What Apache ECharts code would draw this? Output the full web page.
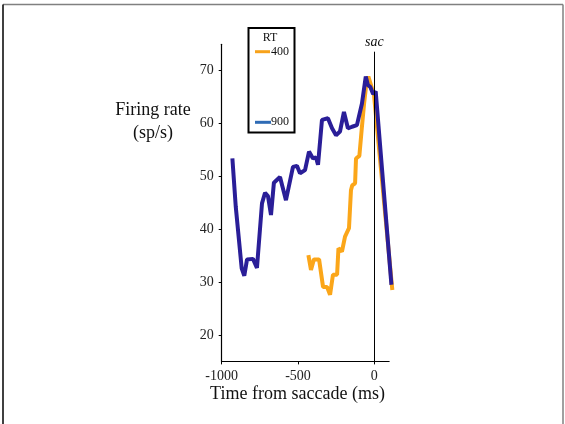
<!DOCTYPE html>
<html><head><meta charset="utf-8">
<script src="https://cdn.jsdelivr.net/npm/echarts@6/dist/echarts.min.js"></script>
<style>html,body{margin:0;padding:0;background:#fff}#c{width:565px;height:424px}</style>
</head><body><div id="c"></div>
<script>
// Data (time from saccade in ms, firing rate in sp/s)
const rt900_t = [-930,-908,-869,-852,-834,-795,-769,-736,-716,-697,-677,-658,-618,-579,-533,-507,-487,-454,-428,-402,-382,-369,-343,-304,-277,-251,-225,-199,-173,-146,-114,-81,-56,-42,-26,-8,9,22,112];
const rt900_v = [53.4,44.3,32.6,31.2,34.3,34.4,32.7,44.9,46.9,46.3,42.7,48.8,49.9,45.5,51.8,52.0,50.6,51.2,54.7,53.4,53.6,52.2,60.7,61.0,59.1,57.8,58.5,62.2,59.1,59.4,59.7,63.8,68.9,67.3,66.9,65.6,66.1,66.0,29.5];
const rt400_t = [-432,-415,-396,-362,-336,-310,-290,-271,-244,-235,-212,-192,-166,-153,-145,-126,-120,-98,-83,-67,-52,-39,-28,-2,118];
const rt400_v = [35.1,32.3,34.3,34.3,29.1,29.1,27.6,31.4,31.4,36.4,35.8,38.6,40.2,47.4,48.3,48.7,53.4,53.9,58.8,63.8,67.6,68.9,68.8,65.4,28.5];
const xTicks = [-1000,-500,0];
const yTicks = [20,30,40,50,60,70];
const xAxisEnd = 100;
const legendTitle = 'RT';
const legendLabels = ['400','900'];

const pair = (t,v)=>t.map((x,i)=>[x,v[i]]);
const serif = 'Liberation Serif';
const chart = echarts.init(document.getElementById('c'), null, {renderer:'canvas'});
chart.setOption({
  animation:false,
  backgroundColor:'#fff',
  grid:{left:221.7, top:44.3, width:171.7, height:317.1, containLabel:false},
  xAxis:{type:'value', min:-1000, max:125, splitLine:{show:false},
    axisLine:{show:false},
    axisTick:{show:true, customValues:xTicks, length:3, lineStyle:{color:'#000'}},
    axisLabel:{customValues:xTicks, formatter:v=>String(v), fontFamily:serif, fontSize:14, color:'#222', margin:8}},
  yAxis:{type:'value', min:15, max:75, splitLine:{show:false},
    axisLine:{show:true, onZero:false, lineStyle:{color:'#000', width:1.2}},
    axisTick:{show:true, customValues:yTicks, length:3, lineStyle:{color:'#000'}},
    axisLabel:{customValues:yTicks, formatter:v=>String(v), fontFamily:serif, fontSize:14, color:'#222', margin:8}},
  series:[
    {type:'line', data:pair(rt400_t, rt400_v), symbol:'none',
      lineStyle:{color:'#FBA619', width:4}, z:2},
    {type:'line', data:pair(rt900_t, rt900_v), symbol:'none',
      lineStyle:{color:'#2A1E98', width:4}, z:3,
      markLine:{silent:true, symbol:'none', label:{show:false},
        lineStyle:{color:'#000', width:1, type:'solid'},
        data:[
          [{coord:[0,73.6]},{coord:[0,15]}],
          [{coord:[-1000,15], lineStyle:{width:1.2}},{coord:[xAxisEnd,15]}]
        ]}}
  ],
  graphic:[
    {type:'line', shape:{x1:3,y1:4.5,x2:563,y2:4.5}, style:{stroke:'#808080', lineWidth:1.5}},
    {type:'line', shape:{x1:3,y1:4.5,x2:3,y2:424}, style:{stroke:'#000', lineWidth:1.5}},
    {type:'line', shape:{x1:563,y1:4.5,x2:563,y2:424}, style:{stroke:'#808080', lineWidth:1.5}},
    {type:'text', x:374.3, y:42, style:{text:'sac', font:'italic 14px "Liberation Serif"', fill:'#111', textAlign:'center', textVerticalAlign:'middle'}},
    {type:'text', x:297.5, y:394, style:{text:'Time from saccade (ms)', font:'18px "Liberation Serif"', fill:'#111', textAlign:'center', textVerticalAlign:'middle'}},
    {type:'text', x:153, y:110, style:{text:'Firing rate', font:'18px "Liberation Serif"', fill:'#111', textAlign:'center', textVerticalAlign:'middle'}},
    {type:'text', x:153, y:133, style:{text:'(sp/s)', font:'18px "Liberation Serif"', fill:'#111', textAlign:'center', textVerticalAlign:'middle'}},
    {type:'rect', shape:{x:248.5,y:28,width:46,height:104.5}, style:{fill:'#fff', stroke:'#000', lineWidth:2}, z:10},
    {type:'text', x:270, y:38, z:11, style:{text:legendTitle, font:'12px "Liberation Serif"', fill:'#111', textAlign:'center', textVerticalAlign:'middle'}},
    {type:'line', z:11, shape:{x1:255,y1:51.7,x2:270,y2:51.7}, style:{stroke:'#F7A21B', lineWidth:3}},
    {type:'text', x:271, y:51.7, z:11, style:{text:legendLabels[0], font:'12px "Liberation Serif"', fill:'#111', textAlign:'left', textVerticalAlign:'middle'}},
    {type:'line', z:11, shape:{x1:255,y1:122.3,x2:271,y2:122.3}, style:{stroke:'#2E6BB5', lineWidth:3}},
    {type:'text', x:271, y:122.3, z:11, style:{text:legendLabels[1], font:'12px "Liberation Serif"', fill:'#111', textAlign:'left', textVerticalAlign:'middle'}}
  ]
});
</script></body></html>
